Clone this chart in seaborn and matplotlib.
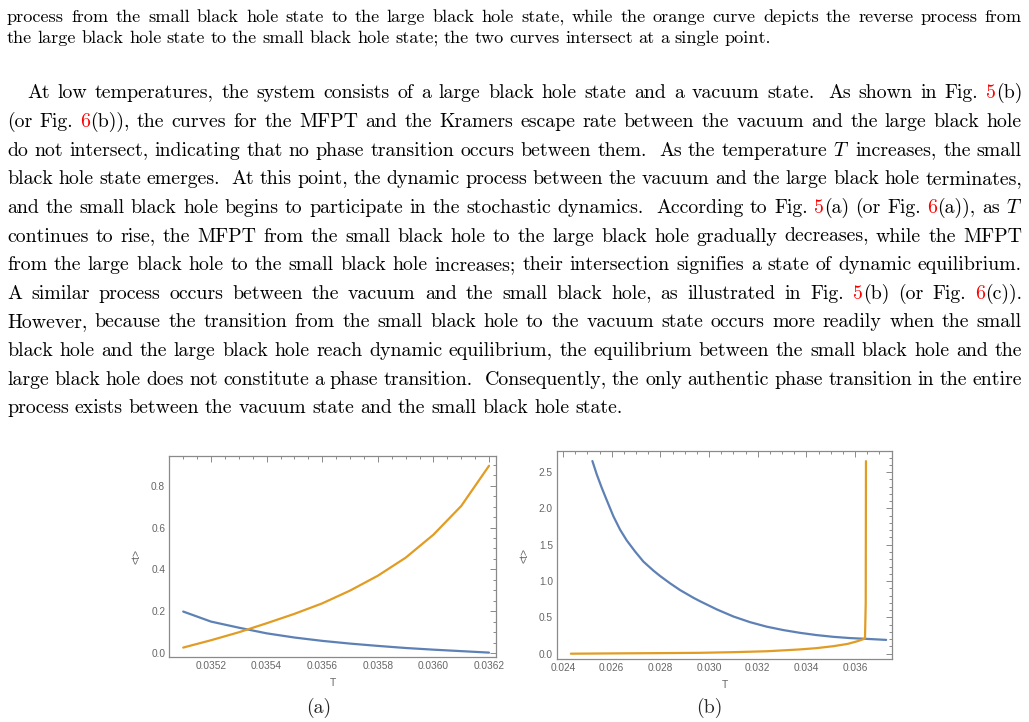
import re
import matplotlib
matplotlib.use("Agg")
import matplotlib.pyplot as plt
import seaborn as sns
import pandas as pd
from matplotlib.ticker import AutoMinorLocator, FormatStrFormatter

sns.set_style("white")
plt.rcParams["font.family"] = ["Liberation Sans", "DejaVu Sans"]
plt.rcParams["mathtext.fontset"] = "cm"

# ---------------- data ----------------
T_a = [0.0351, 0.0352, 0.0353, 0.0354, 0.0355, 0.0356, 0.0357, 0.0358, 0.0359, 0.0360, 0.0361, 0.0362]
a_blue = [0.199, 0.151, 0.122, 0.095, 0.075, 0.059, 0.046, 0.035, 0.025, 0.017, 0.010, 0.003]
a_orange = [0.027, 0.062, 0.100, 0.143, 0.188, 0.238, 0.299, 0.370, 0.456, 0.566, 0.703, 0.895]

T_b_blue = [0.025205, 0.025384, 0.02559, 0.025795, 0.026069, 0.026343, 0.026617, 0.026959,
            0.027301, 0.027712, 0.027986, 0.028397, 0.028808, 0.029356, 0.02963, 0.030041,
            0.030315, 0.031, 0.031685, 0.03237, 0.033055, 0.03374, 0.034425, 0.03511,
            0.035795, 0.03648, 0.03728]
b_blue = [2.652, 2.468, 2.283, 2.113, 1.891, 1.707, 1.559, 1.407,
          1.268, 1.144, 1.070, 0.969, 0.876, 0.770, 0.722, 0.655,
          0.610, 0.512, 0.434, 0.372, 0.325, 0.287, 0.256, 0.232,
          0.215, 0.204, 0.190]
T_b_orange = [0.02432, 0.026, 0.028, 0.0296, 0.031, 0.0324, 0.0337, 0.0344, 0.0351,
              0.0357, 0.0361, 0.03634, 0.03641, 0.03644, 0.03645]
b_orange = [0.0, 0.004, 0.008, 0.012, 0.021, 0.034, 0.058, 0.076, 0.103,
            0.135, 0.172, 0.200, 0.212, 0.7, 2.65]

xticks_a = [0.0352, 0.0354, 0.0356, 0.0358, 0.0360, 0.0362]
yticks_a = [0.0, 0.2, 0.4, 0.6, 0.8]
xticks_b = [0.024, 0.026, 0.028, 0.030, 0.032, 0.034, 0.036]
yticks_b = [0.0, 0.5, 1.0, 1.5, 2.0, 2.5]

caption_lines = [
    "process from the small black hole state to the large black hole state, while the orange curve depicts the reverse process from",
    "the large black hole state to the small black hole state; the two curves intersect at a single point.",
]
para_lines = [
    "At low temperatures, the system consists of a large black hole state and a vacuum state. As shown in Fig. {5}(b)",
    "(or Fig. {6}(b)), the curves for the MFPT and the Kramers escape rate between the vacuum and the large black hole",
    "do not intersect, indicating that no phase transition occurs between them. As the temperature $T$ increases, the small",
    "black hole state emerges. At this point, the dynamic process between the vacuum and the large black hole terminates,",
    "and the small black hole begins to participate in the stochastic dynamics. According to Fig. {5}(a) (or Fig. {6}(a)), as $T$",
    "continues to rise, the MFPT from the small black hole to the large black hole gradually decreases, while the MFPT",
    "from the large black hole to the small black hole increases; their intersection signifies a state of dynamic equilibrium.",
    "A similar process occurs between the vacuum and the small black hole, as illustrated in Fig. {5}(b) (or Fig. {6}(c)).",
    "However, because the transition from the small black hole to the vacuum state occurs more readily when the small",
    "black hole and the large black hole reach dynamic equilibrium, the equilibrium between the small black hole and the",
    "large black hole does not constitute a phase transition. Consequently, the only authentic phase transition in the entire",
    "process exists between the vacuum state and the small black hole state.",
]
sub_labels = ["(a)", "(b)"]

BLUE = "#5E81B5"
ORANGE = "#E19C24"
RED = "#FF0000"
FRAME = "#8a8a8a"
LABEL = "#666666"

W, H = 1029, 722
fig = plt.figure(figsize=(W / 100, H / 100), dpi=100)
fig.patch.set_facecolor("white")
renderer = fig.canvas.get_renderer()
BODY = "cmr10"
CAP = "cmr10"


def measure(s, size, fam):
    t = fig.text(0, 0, s, fontsize=size, family=fam)
    w = t.get_window_extent(renderer=renderer).width
    t.remove()
    return w


def parse(word):
    segs = []
    for m in re.finditer(r"\{([^}]*)\}|([^{]+)", word):
        if m.group(1) is not None:
            segs.append((m.group(1), RED))
        else:
            segs.append((m.group(2), "black"))
    return segs


def draw_line(text, x0, x1, ybase, size, fam, justify):
    words = text.split(" ")
    wl = []
    for w in words:
        wl.append([(s, c, measure(s, size, fam)) for s, c in parse(w)])
    tot = sum(sum(s[2] for s in ws) for ws in wl)
    px = size * 100 / 72
    space = 0.3 * px
    extra = []
    for w in words[:-1]:
        if (w.endswith(".") and w != "Fig.") or w.endswith(".)"):
            extra.append(0.3 * px)
        else:
            extra.append(0.0)
    n = len(words)
    g = (x1 - x0 - tot - sum(extra)) / (n - 1) if (justify and n > 1) else space
    x = x0
    for i, ws in enumerate(wl):
        for s, c, w in ws:
            fig.text(x / W, 1 - ybase / H, s, fontsize=size, family=fam, color=c,
                     ha="left", va="baseline")
            x += w
        if i < n - 1:
            x += g + extra[i]


body_size = 10 * (624 / measure(para_lines[-1], 10, BODY))
cap_size = 10 * (776 / measure(caption_lines[-1], 10, CAP))

left, right = 7, 1022
cap_base = [22, 43]
for i, line in enumerate(caption_lines):
    draw_line(line, left, right, cap_base[i], cap_size, CAP, justify=(i < len(caption_lines) - 1))

for i, line in enumerate(para_lines):
    x0 = 27 if i == 0 else left
    draw_line(line, x0, right, 98.3 + i * 28.64, body_size, BODY, justify=(i < len(para_lines) - 1))

# ---------------- plots ----------------
df_a = pd.DataFrame({"T": T_a + T_a,
                     "t": a_blue + a_orange,
                     "s": ["blue"] * len(T_a) + ["orange"] * len(T_a)})
df_b = pd.DataFrame({"T": T_b_blue + T_b_orange,
                     "t": b_blue + b_orange,
                     "s": ["blue"] * len(T_b_blue) + ["orange"] * len(T_b_orange)})

ax1 = fig.add_axes([169.3 / W, 1 - 657 / H, 326.7 / W, 201.3 / H])
ax2 = fig.add_axes([557 / W, 1 - 659 / H, 335 / W, 208 / H])

for ax, df in ((ax1, df_a), (ax2, df_b)):
    sns.lineplot(data=df, x="T", y="t", hue="s", palette={"blue": BLUE, "orange": ORANGE},
                 estimator=None, sort=False, linewidth=1.6, legend=False, ax=ax)

ax1.set_xlim(0.03505, 0.036225)
ax1.set_ylim(-0.018, 0.943)
ax1.set_xticks(xticks_a)
ax1.set_yticks(yticks_a)
ax1.xaxis.set_major_formatter(FormatStrFormatter("%.4f"))
ax1.yaxis.set_major_formatter(FormatStrFormatter("%.1f"))
ax1.xaxis.set_minor_locator(AutoMinorLocator(4))
ax1.yaxis.set_minor_locator(AutoMinorLocator(4))

ax2.set_xlim(0.02375, 0.03752)
ax2.set_ylim(-0.073, 2.79)
ax2.set_xticks(xticks_b)
ax2.set_yticks(yticks_b)
ax2.xaxis.set_major_formatter(FormatStrFormatter("%.3f"))
ax2.yaxis.set_major_formatter(FormatStrFormatter("%.1f"))
ax2.xaxis.set_minor_locator(AutoMinorLocator(4))
ax2.yaxis.set_minor_locator(AutoMinorLocator(5))

for ax in (ax1, ax2):
    ax.set_facecolor("white")
    for sp in ax.spines.values():
        sp.set_color(FRAME)
        sp.set_linewidth(0.9)
        sp.set_visible(True)
    ax.tick_params(which="both", direction="in", top=True, right=True,
                   color=FRAME, labelcolor=LABEL, labelsize=7.3, width=0.7, pad=3)
    ax.tick_params(which="major", length=4)
    ax.tick_params(which="minor", length=2)
    ax.set_xlabel("T", color=LABEL, fontsize=7.5, labelpad=5)
    ax.set_ylabel("<t>", color=LABEL, fontsize=7.5, labelpad=7)
    ax.grid(False)

fig.text(319 / W, 1 - 713 / H, sub_labels[0], fontsize=body_size, family=BODY, ha="center", va="baseline")
fig.text(709 / W, 1 - 713 / H, sub_labels[1], fontsize=body_size, family=BODY, ha="center", va="baseline")

fig.savefig("out.png", dpi=100, facecolor="white")
